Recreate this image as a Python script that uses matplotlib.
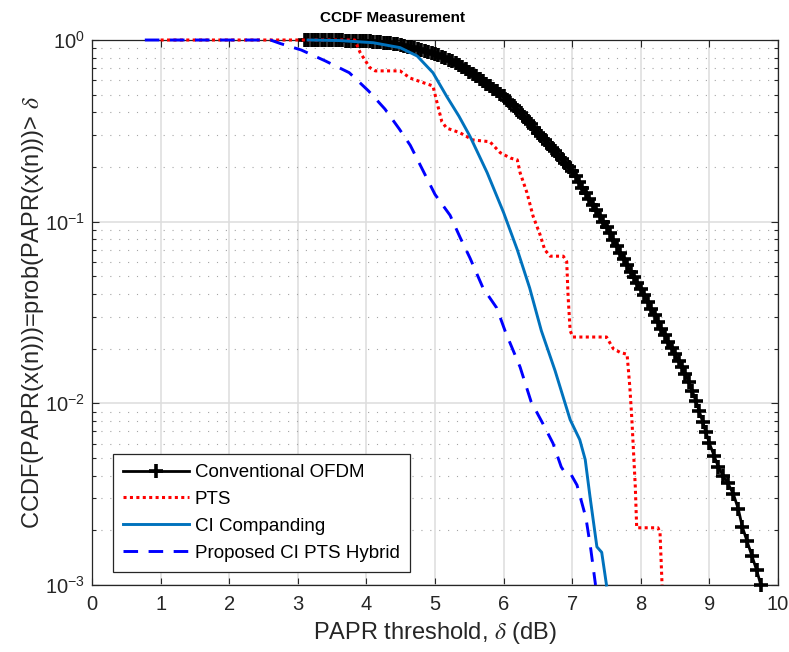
import numpy as np
import matplotlib
matplotlib.use("Agg")
import matplotlib.pyplot as plt
from matplotlib.ticker import LogLocator, NullFormatter, FixedLocator, FixedFormatter

plt.rcParams['font.family'] = ['Liberation Sans', 'DejaVu Sans']
plt.rcParams['mathtext.fontset'] = 'stix'

# ---------------- data (CCDF values stored as log10) ----------------
conv_x = [3.10, 3.15, 3.20, 3.25, 3.30, 3.35, 3.40, 3.45, 3.50, 3.55,
          3.60, 3.65, 3.70, 3.75, 3.80, 3.85, 3.90, 3.95, 4.00, 4.05,
          4.10, 4.15, 4.20, 4.25, 4.30, 4.35, 4.40, 4.45, 4.50, 4.55,
          4.60, 4.65, 4.70, 4.75, 4.80, 4.85, 4.90, 4.95, 5.00, 5.05,
          5.10, 5.15, 5.20, 5.25, 5.30, 5.35, 5.40, 5.45, 5.50, 5.55,
          5.60, 5.65, 5.70, 5.75, 5.80, 5.85, 5.90, 5.95, 6.00, 6.05,
          6.10, 6.15, 6.20, 6.25, 6.30, 6.35, 6.40, 6.45, 6.50, 6.55,
          6.60, 6.65, 6.70, 6.75, 6.80, 6.85, 6.90, 6.95, 7.00, 7.05,
          7.10, 7.15, 7.20, 7.25, 7.30, 7.35, 7.40, 7.45, 7.50, 7.55,
          7.60, 7.65, 7.70, 7.75, 7.80, 7.85, 7.90, 7.95, 8.00, 8.05,
          8.10, 8.15, 8.20, 8.25, 8.30, 8.35, 8.40, 8.45, 8.50, 8.55,
          8.60, 8.65, 8.70, 8.75, 8.80, 8.85, 8.90, 8.95, 9.00, 9.07,
          9.13, 9.20, 9.27, 9.35, 9.42, 9.48, 9.55, 9.62, 9.69, 9.75]
conv_log10 = [0.000, 0.000, 0.000, 0.000, 0.000, -0.001, -0.001, -0.001, -0.001, -0.002,
              -0.002, -0.002, -0.003, -0.003, -0.004, -0.004, -0.005, -0.005, -0.006, -0.007,
              -0.009, -0.010, -0.012, -0.014, -0.016, -0.018, -0.021, -0.024, -0.028, -0.032,
              -0.036, -0.040, -0.045, -0.050, -0.055, -0.061, -0.067, -0.071, -0.075, -0.083,
              -0.091, -0.100, -0.109, -0.118, -0.128, -0.139, -0.150, -0.162, -0.175, -0.187,
              -0.199, -0.212, -0.226, -0.240, -0.254, -0.268, -0.282, -0.296, -0.310, -0.328,
              -0.346, -0.365, -0.384, -0.403, -0.423, -0.444, -0.465, -0.487, -0.510, -0.530,
              -0.550, -0.570, -0.592, -0.613, -0.635, -0.655, -0.676, -0.698, -0.720, -0.750,
              -0.780, -0.812, -0.843, -0.875, -0.906, -0.937, -0.968, -1.000, -1.030, -1.065,
              -1.100, -1.135, -1.170, -1.205, -1.240, -1.275, -1.305, -1.338, -1.370, -1.405,
              -1.440, -1.478, -1.515, -1.552, -1.590, -1.625, -1.660, -1.695, -1.730, -1.765,
              -1.800, -1.840, -1.880, -1.930, -1.985, -2.040, -2.100, -2.160, -2.220, -2.290,
              -2.350, -2.400, -2.440, -2.500, -2.580, -2.680, -2.760, -2.840, -2.920, -3.000]

pts_x = [1.0, 3.83, 3.91, 4.05, 4.13, 4.49, 4.64, 4.83, 4.97, 5.03,
         5.10, 5.17, 5.36, 5.55, 5.80, 5.95, 6.10, 6.20, 6.24, 6.34,
         6.43, 6.53, 6.60, 6.68, 6.87, 6.92, 6.94, 6.97, 7.01, 7.50,
         7.60, 7.70, 7.80, 7.84, 7.87, 7.92, 7.94, 8.25, 8.28, 8.31]
pts_log10 = [0.0, 0.0, -0.07, -0.152, -0.17, -0.17, -0.21, -0.235, -0.253, -0.345,
             -0.45, -0.485, -0.51, -0.55, -0.56, -0.62, -0.65, -0.66, -0.73, -0.84,
             -0.97, -1.07, -1.155, -1.19, -1.19, -1.22, -1.41, -1.60, -1.635, -1.635,
             -1.70, -1.72, -1.73, -1.91, -2.09, -2.46, -2.685, -2.685, -2.71, -3.0]

ci_x = [3.15, 3.6, 4.1, 4.49, 4.74, 4.97, 5.17, 5.35, 5.51, 5.76,
        6.0, 6.2, 6.38, 6.55, 6.75, 6.97, 7.11, 7.19, 7.26, 7.36,
        7.43, 7.5]
ci_log10 = [0.0, -0.003, -0.015, -0.042, -0.088, -0.18, -0.31, -0.42, -0.53, -0.73,
            -0.95, -1.155, -1.365, -1.60, -1.82, -2.09, -2.20, -2.31, -2.515, -2.79,
            -2.82, -3.0]

hyb_x = [0.77, 2.6, 2.75, 3.05, 3.4, 3.75, 4.03, 4.27, 4.48, 4.64,
         4.84, 5.0, 5.22, 5.37, 5.51, 5.7, 5.9, 6.03, 6.24, 6.4,
         6.57, 6.72, 6.84, 6.9, 6.98, 7.07, 7.2, 7.27, 7.34]
hyb_log10 = [0.0, 0.0, -0.02, -0.055, -0.115, -0.18, -0.28, -0.38, -0.49, -0.58,
             -0.73, -0.85, -0.965, -1.09, -1.2, -1.365, -1.475, -1.61, -1.8, -1.99,
             -2.11, -2.22, -2.35, -2.385, -2.39, -2.45, -2.63, -2.8, -3.0]

labels = ['Conventional OFDM', 'PTS', 'CI Companding', 'Proposed CI PTS Hybrid']
x_ticks = [0, 1, 2, 3, 4, 5, 6, 7, 8, 9, 10]
y_ticks = [1e-3, 1e-2, 1e-1, 1e0]
y_tick_labels = [r'$\mathdefault{10^{-3}}$', r'$\mathdefault{10^{-2}}$',
                 r'$\mathdefault{10^{-1}}$', r'$\mathdefault{10^{0}}$']

# ---------------- figure ----------------
W, H = 789, 652
fig = plt.figure(figsize=(W / 100, H / 100), dpi=100)
L, R, T, B = 92, 778, 40, 585
ax = fig.add_axes([L / W, 1 - B / H, (R - L) / W, (B - T) / H])

dark = '#262626'
common = dict(clip_on=False, zorder=3)
ax.semilogy(conv_x, 10 ** np.array(conv_log10), color='k', lw=2.0,
            marker='+', ms=10, mew=2.6, label=labels[0], **common)
ax.semilogy(pts_x, 10 ** np.array(pts_log10), color='red', lw=2.2,
            linestyle=(0, (1, 1.1)), label=labels[1], **common)
ax.semilogy(ci_x, 10 ** np.array(ci_log10), color=(0, 0.447, 0.741), lw=2.1,
            label=labels[2], **common)
ax.semilogy(hyb_x, 10 ** np.array(hyb_log10), color='blue', lw=2.1,
            linestyle=(0, (5, 3.6)), label=labels[3], **common)

ax.set_xlim(0, 10)
ax.set_ylim(1e-3, 1)
ax.xaxis.set_major_locator(FixedLocator(x_ticks))
ax.xaxis.set_minor_locator(FixedLocator([]))
ax.yaxis.set_major_locator(FixedLocator(y_ticks))
ax.yaxis.set_major_formatter(FixedFormatter(y_tick_labels))
ax.yaxis.set_minor_locator(LogLocator(base=10, subs=np.arange(2, 10)))
ax.yaxis.set_minor_formatter(NullFormatter())

ax.set_axisbelow(True)
ax.grid(True, which='major', color='#dddddd', lw=1.1, ls='-')
ax.yaxis.grid(True, which='minor', color='#a5a5a5', lw=0.8, ls=(0, (1, 7)))

ax.tick_params(which='both', direction='in', top=True, right=True,
               colors=dark, labelsize=14.5, width=0.8)
ax.tick_params(which='major', length=5)
ax.tick_params(which='minor', length=3)
ax.tick_params(axis='x', pad=7)
ax.tick_params(axis='y', pad=5)
for s in ax.spines.values():
    s.set_color(dark)
    s.set_linewidth(0.9)

ax.set_xlabel(r'PAPR threshold, $\delta$ (dB)', fontsize=17, color=dark)
ax.set_ylabel(r'CCDF(PAPR(x(n)))=prob(PAPR(x(n)))> $\delta$', fontsize=17, color=dark)
ax.xaxis.set_label_coords(0.5, -(620 - B) / (B - T))
ax.yaxis.set_label_coords(-(92 - 46) / (R - L), 0.5)

fig.text(393 / W, 1 - 18 / H, 'CCDF Measurement', ha='center', va='center',
         fontsize=11, fontweight='bold', color='k')

leg = ax.legend(loc='lower left', bbox_to_anchor=((113 - L) / (R - L), (B - 572) / (B - T)),
                fontsize=13.5, frameon=True, fancybox=False, edgecolor=dark,
                framealpha=1, handlelength=3.5, handletextpad=0.3, borderpad=0.55,
                labelspacing=0.52, borderaxespad=0)
leg.get_frame().set_linewidth(0.9)
leg.set_zorder(5)

fig.savefig('out.png', dpi=100)
